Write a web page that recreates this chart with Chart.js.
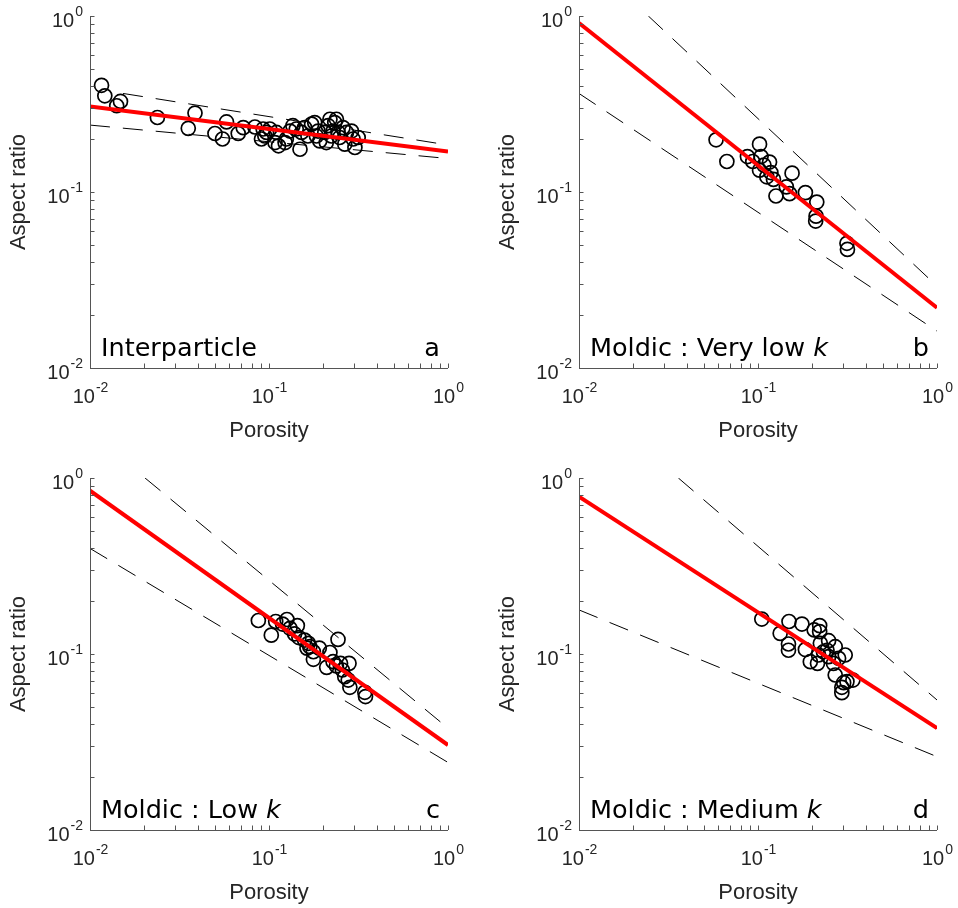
<!DOCTYPE html>
<html>
<head>
<meta charset="utf-8">
<script src="https://cdn.jsdelivr.net/npm/chart.js@4.4.1/dist/chart.umd.min.js"></script>
<style>
  body { margin: 0; background: #fff; width: 958px; height: 908px; position: relative; overflow: hidden; }
  canvas { position: absolute; }
</style>
</head>
<body>
<canvas id="pa" width="469" height="446" style="left:0;top:0"></canvas>
<canvas id="pb" width="469" height="446" style="left:489px;top:0"></canvas>
<canvas id="pc" width="469" height="446" style="left:0;top:462px"></canvas>
<canvas id="pd" width="469" height="446" style="left:489px;top:462px"></canvas>
<script>
// tick labels (powers of ten)
const tickValues = [0.01, 0.1, 1];
const tickExponents = ['-2', '-1', '0'];

// a: Interparticle
const aPorosity = [0.0116, 0.0121, 0.0141, 0.0148, 0.0238, 0.0354, 0.0386, 0.0499, 0.0550, 0.0579,
  0.0673, 0.0718, 0.0834, 0.0927, 0.0969, 0.0908, 0.0948, 0.101, 0.108, 0.110,
  0.113, 0.123, 0.125, 0.131, 0.136, 0.142, 0.149, 0.152, 0.158, 0.165,
  0.173, 0.180, 0.188, 0.192, 0.205, 0.214, 0.219, 0.223, 0.228, 0.233,
  0.238, 0.243, 0.248, 0.259, 0.265, 0.271, 0.289, 0.295, 0.302, 0.315, 0.209, 0.184];
const aAspect = [0.404, 0.352, 0.309, 0.327, 0.265, 0.230, 0.281, 0.215, 0.200, 0.250,
  0.215, 0.232, 0.234, 0.228, 0.218, 0.200, 0.208, 0.228, 0.191, 0.218,
  0.183, 0.191, 0.200, 0.222, 0.238, 0.228, 0.175, 0.218, 0.232, 0.208,
  0.243, 0.248, 0.222, 0.195, 0.218, 0.238, 0.259, 0.208, 0.222, 0.248,
  0.259, 0.218, 0.204, 0.232, 0.187, 0.218, 0.222, 0.200, 0.179, 0.204, 0.191, 0.208];
const aFitX = [0.01, 1], aFitY = [0.306, 0.170];
const aUpX = [0.0153, 1], aUpY = [0.363, 0.185];
const aLoX = [0.01, 1], aLoY = [0.240, 0.155];

// b: Moldic, very low k
const bPorosity = [0.0583, 0.0670, 0.0873, 0.0935, 0.102, 0.104, 0.102, 0.108, 0.116, 0.112,
  0.122, 0.126, 0.144, 0.150, 0.155, 0.184, 0.213, 0.211, 0.210, 0.314, 0.316, 0.118];
const bAspect = [0.198, 0.149, 0.159, 0.149, 0.187, 0.159, 0.133, 0.142, 0.148, 0.122,
  0.118, 0.0949, 0.107, 0.0979, 0.128, 0.0992, 0.0877, 0.0729, 0.0684, 0.0511, 0.0472, 0.129];
const bFitX = [0.01, 1], bFitY = [0.912, 0.0220];
const bUpX = [0.0244, 1], bUpY = [1.0, 0.0292];
const bLoX = [0.01, 1], bLoY = [0.363, 0.0162];

// c: Moldic, low k
const cPorosity = [0.0872, 0.103, 0.109, 0.119, 0.126, 0.131, 0.144, 0.139, 0.147, 0.158,
  0.166, 0.163, 0.169, 0.177, 0.191, 0.177, 0.219, 0.243, 0.210, 0.228,
  0.238, 0.251, 0.280, 0.257, 0.265, 0.277, 0.283, 0.343, 0.346];
const cAspect = [0.155, 0.128, 0.153, 0.148, 0.157, 0.140, 0.145, 0.130, 0.124, 0.120,
  0.115, 0.108, 0.110, 0.103, 0.108, 0.0933, 0.102, 0.121, 0.0840, 0.0904,
  0.0855, 0.0885, 0.0885, 0.0811, 0.0743, 0.0711, 0.0647, 0.0606, 0.0573];
const cFitX = [0.01, 1], cFitY = [0.847, 0.0304];
const cUpX = [0.0203, 1], cUpY = [1.0, 0.0379];
const cLoX = [0.01, 1], cLoY = [0.398, 0.0242];

// d: Moldic, medium k
const dPorosity = [0.105, 0.133, 0.149, 0.148, 0.148, 0.176, 0.184, 0.196, 0.206, 0.221,
  0.221, 0.223, 0.215, 0.218, 0.248, 0.232, 0.248, 0.270, 0.264, 0.282,
  0.307, 0.270, 0.301, 0.294, 0.294, 0.314, 0.339, 0.243];
const dAspect = [0.158, 0.131, 0.153, 0.114, 0.105, 0.148, 0.106, 0.0904, 0.137, 0.145,
  0.134, 0.115, 0.0885, 0.0987, 0.119, 0.103, 0.0966, 0.110, 0.0885, 0.0945,
  0.0987, 0.0760, 0.0687, 0.0647, 0.0603, 0.0697, 0.0711, 0.105];
const dFitX = [0.01, 1], dFitY = [0.783, 0.0379];
const dUpX = [0.0359, 1], dUpY = [1.0, 0.0548];
const dLoX = [0.01, 1], dLoY = [0.178, 0.0261];

const pts = (xs, ys) => xs.map((x, i) => ({ x: x, y: ys[i] }));

const textCol = '#262626';

function powLabel(ctx, exp, x, y, align) {
  ctx.font = '20px "Liberation Sans", Arial, sans-serif';
  const wb = ctx.measureText('10').width;
  ctx.font = '14px "Liberation Sans", Arial, sans-serif';
  const ws = ctx.measureText(exp).width;
  const left = align === 'right' ? x - wb - ws : x - (wb + ws) / 2;
  ctx.textAlign = 'left';
  ctx.textBaseline = 'middle';
  ctx.font = '20px "Liberation Sans", Arial, sans-serif';
  ctx.fillText('10', left, y);
  ctx.font = '14px "Liberation Sans", Arial, sans-serif';
  ctx.fillText(exp, left + wb + 1, y - 9);
}

const matlabAxes = {
  id: 'matlabAxes',
  afterDraw(chart, args, opts) {
    const { ctx, chartArea: ca, scales } = chart;
    const x = scales.x, y = scales.y;
    ctx.save();
    ctx.strokeStyle = '#555';
    ctx.lineWidth = 1;
    ctx.beginPath();
    ctx.moveTo(ca.left + 0.5, ca.top);
    ctx.lineTo(ca.left + 0.5, ca.bottom + 0.5);
    ctx.lineTo(ca.right, ca.bottom + 0.5);
    const ticks = [];
    [0.01, 0.1].forEach(d => { for (let m = 1; m < 10; m++) ticks.push(m * d); });
    ticks.push(1);
    ticks.forEach(v => {
      const px = Math.round(x.getPixelForValue(v)) + 0.5;
      ctx.moveTo(px, ca.bottom);
      ctx.lineTo(px, ca.bottom - 4.5);
      const py = Math.round(y.getPixelForValue(v)) + 0.5;
      ctx.moveTo(ca.left, py);
      ctx.lineTo(ca.left + 4.5, py);
    });
    ctx.stroke();

    ctx.fillStyle = textCol;
    tickValues.forEach((v, i) => {
      powLabel(ctx, tickExponents[i], x.getPixelForValue(v), ca.bottom + 29, 'center');
      powLabel(ctx, tickExponents[i], ca.left - 8, y.getPixelForValue(v) + 5, 'right');
    });

    ctx.font = '22px "Liberation Sans", Arial, sans-serif';
    ctx.textAlign = 'center';
    ctx.textBaseline = 'alphabetic';
    ctx.fillText('Porosity', (ca.left + ca.right) / 2, ca.bottom + 69);
    ctx.save();
    ctx.translate(ca.left - 71, (ca.top + ca.bottom) / 2);
    ctx.rotate(-Math.PI / 2);
    ctx.textBaseline = 'middle';
    ctx.fillText('Aspect ratio', 0, 0);
    ctx.restore();

    // panel name and letter
    ctx.fillStyle = '#000';
    ctx.textAlign = 'left';
    ctx.textBaseline = 'alphabetic';
    ctx.font = '25.5px "DejaVu Sans", sans-serif';
    const base = ca.bottom - 12;
    ctx.fillText(opts.name, ca.left + 11, base);
    if (opts.italic) {
      const w = ctx.measureText(opts.name).width;
      ctx.font = 'italic 25.5px "DejaVu Sans", sans-serif';
      ctx.fillText(opts.italic, ca.left + 11 + w, base);
    }
    ctx.font = '25.5px "DejaVu Sans", sans-serif';
    ctx.textAlign = 'right';
    ctx.fillText(opts.letter, ca.right - 8, base);
    ctx.restore();
  }
};

function makePanel(id, xs, ys, fitX, fitY, upX, upY, loX, loY, name, italic, letter) {
  return new Chart(document.getElementById(id), {
    type: 'scatter',
    data: {
      datasets: [
        {
          label: 'fit',
          data: pts(fitX, fitY),
          showLine: true,
          borderColor: '#ff0000',
          borderWidth: 4,
          pointRadius: 0,
          order: 0,
        },
        {
          label: 'upper',
          data: pts(upX, upY),
          showLine: true,
          borderColor: '#000',
          borderWidth: 1,
          borderDash: [20, 13],
          pointRadius: 0,
          order: 1,
        },
        {
          label: 'lower',
          data: pts(loX, loY),
          showLine: true,
          borderColor: '#000',
          borderWidth: 1,
          borderDash: [20, 13],
          pointRadius: 0,
          order: 1,
        },
        {
          label: 'data',
          data: pts(xs, ys),
          showLine: false,
          pointStyle: 'circle',
          pointRadius: 7,
          borderColor: '#000',
          borderWidth: 1.7,
          backgroundColor: 'rgba(0,0,0,0)',
          order: 2,
        },
      ],
    },
    options: {
      responsive: false,
      animation: false,
      devicePixelRatio: 1,
      layout: { padding: { left: 90, top: 16, right: 21, bottom: 78 } },
      plugins: {
        legend: { display: false },
        tooltip: { enabled: false },
        matlabAxes: { name: name, italic: italic, letter: letter },
      },
      scales: {
        x: { type: 'logarithmic', min: 0.01, max: 1, display: false },
        y: { type: 'logarithmic', min: 0.01, max: 1, display: false },
      },
    },
    plugins: [matlabAxes],
  });
}

makePanel('pa', aPorosity, aAspect, aFitX, aFitY, aUpX, aUpY, aLoX, aLoY, 'Interparticle', '', 'a');
makePanel('pb', bPorosity, bAspect, bFitX, bFitY, bUpX, bUpY, bLoX, bLoY, 'Moldic : Very low ', 'k', 'b');
makePanel('pc', cPorosity, cAspect, cFitX, cFitY, cUpX, cUpY, cLoX, cLoY, 'Moldic : Low ', 'k', 'c');
makePanel('pd', dPorosity, dAspect, dFitX, dFitY, dUpX, dUpY, dLoX, dLoY, 'Moldic : Medium ', 'k', 'd');
</script>
</body>
</html>
